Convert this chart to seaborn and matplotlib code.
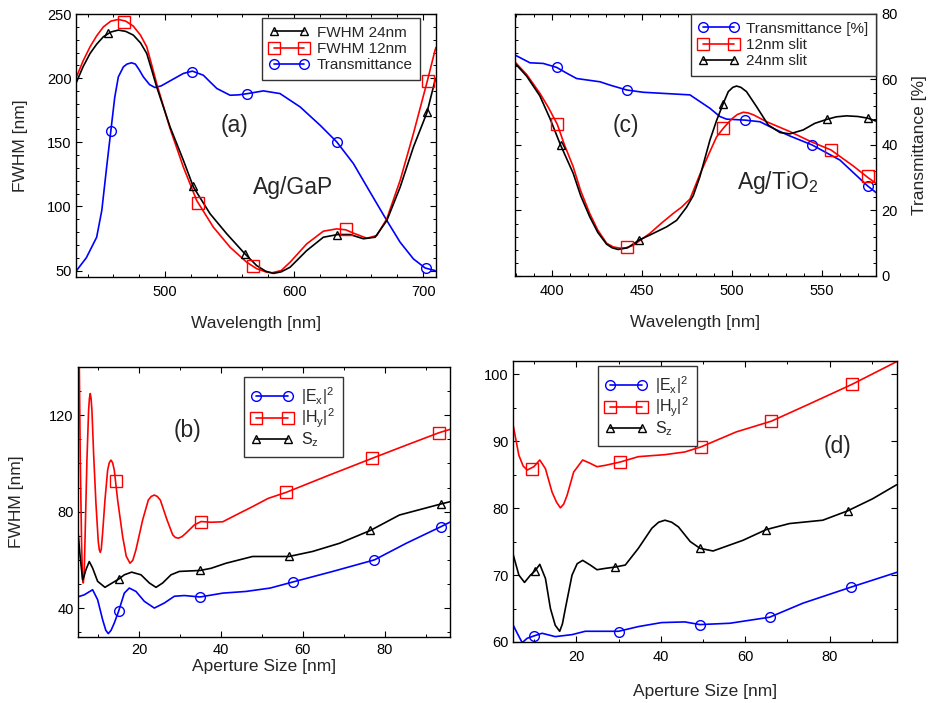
import numpy as np
import pandas as pd
import matplotlib
matplotlib.use('Agg')
import matplotlib.pyplot as plt
import seaborn as sns
from matplotlib.lines import Line2D
from matplotlib.ticker import MultipleLocator

# ---------------- Panel (a): Ag/GaP ----------------
a_24_x = [431.4, 436.5, 441.9, 447, 452.2, 458, 463.8, 469.5, 475.4, 481, 485.8, 489.5, 493.5, 503.9, 514.2, 522,
          534.9, 547.8, 561.5, 571, 578, 584, 590, 596.9, 609.8, 622.7, 633.9, 643.4, 653.7, 662.8, 671.9,
          682.2, 692.5, 702.9, 709.3, 710]
a_24_y = [197, 209, 219.3, 226.5, 232.3, 236, 237.5, 236.5, 233.6, 227.5, 219.3, 207, 193.2, 162, 136, 115.1,
          94.3, 78.7, 63.5, 53.9, 49.5, 47.8, 49, 52.6, 65.6, 76, 78.1, 78.1, 74.8, 76, 89,
          115, 146.3, 172.9, 198.4, 200]
a_12_x = [431.4, 436.5, 441.9, 447, 452.2, 458, 463.8, 469.5, 475.4, 481, 485.8, 489.5, 493.5, 503.9, 514.2, 524.5,
          537.4, 550.4, 563.3, 571, 578.8, 583, 590, 596.9, 609.8, 622.7, 633, 640, 646, 656.4, 664.1, 671.9,
          682.2, 692.5, 703.3, 709.3, 710]
a_12_y = [201, 213.5, 224.5, 233, 240, 244.5, 245.8, 244.5, 240.6, 233.5, 224.5, 211, 195.8, 160.7, 130.7, 104.7,
          83.9, 68.2, 56.5, 51.5, 48.7, 48.3, 50, 56.5, 70.8, 80.7, 82.5, 81.8, 79.2, 75.2, 77.3, 90.4,
          120.3, 156.8, 197.9, 221.9, 224]
a_tr_x = [431.4, 439, 447, 451, 455, 458, 461, 463.8, 467.7, 470.5, 474, 477, 480, 483.2, 488, 492.2, 497, 503.9,
          514.2, 521.2, 529.7, 535, 540.1, 550.4, 557, 564.1, 576.2, 589.1, 604.7, 620.2, 633.1, 646, 658.9,
          671.9, 682.2, 692.5, 701.6, 709.3]
a_tr_y = [50, 60, 76, 97, 133, 159, 185, 201, 208.8, 211, 212, 211, 206.5, 201, 195, 192.7, 194, 197.9,
          203.7, 205.5, 202.3, 197, 192, 186.7, 187, 188, 190.1, 188, 177.6, 163.3, 150.3, 133.4, 111.2,
          89, 72.1, 59.1, 52, 50]
a_24_mx = [456, 521.7, 562, 633.6, 702.8]
a_24_my = [235, 115.6, 63, 78, 173.4]
a_12_mx = [468, 525.6, 568, 640, 703.6]
a_12_my = [244, 102.6, 53.4, 82.5, 197.7]
a_tr_mx = [458, 521, 563.8, 633, 702]
a_tr_my = [158.6, 205, 187.5, 150, 52]

# ---------------- Panel (c): Ag/TiO2 ----------------
c_tr_x = [379.4, 387.8, 395.2, 402.6, 408, 413.7, 426.7, 432.2, 441.5, 450.7, 476.7, 487.8, 493.3, 497,
          507.2, 515.6, 524.8, 532, 544.6, 560, 575.4, 580]
c_tr_y = [67.5, 65.1, 64.9, 63.7, 62, 60.3, 59.3, 58.3, 56.8, 56.1, 55.3, 51.2, 48.7, 47.9,
          47.6, 47.1, 44.6, 42.8, 40, 35.4, 27.5, 25.5]
c_12_x = [379.4, 386, 393.3, 398, 403, 407, 411.8, 416, 421, 425.5, 430.4, 434, 437.8, 441, 445, 454.4, 461,
          467.4, 472, 476.7, 482.2, 487.8, 491.5, 495.5, 500, 503, 506.3, 509, 512, 519.3, 532.2, 544, 555,
          567.4, 575.7, 580]
c_12_y = [65.4, 61.5, 55.8, 51.5, 46.3, 40, 33.4, 26, 19.1, 14, 10, 8.9, 8.5, 8.6, 9.3, 13, 16.2,
          19.1, 21, 23.5, 31, 38, 42.5, 45.3, 48, 49.3, 50, 49.8, 49.2, 47.1, 44.1, 41, 38.5,
          33.6, 30, 28.3]
c_24_x = [379.4, 386, 393.3, 399, 404.8, 411.8, 416, 421, 425.5, 430.4, 433.5, 436.8, 442, 448.5, 454.4, 463.7,
          469.3, 474.8, 478.5, 482.2, 487.8, 491.5, 495.2, 498, 500.5, 502.6, 505, 508.1, 513.7, 520.2, 526.7,
          532.2, 539.6, 546, 552.6, 558, 563.7, 570, 575.4, 580]
c_24_y = [65, 61, 55, 48, 40, 31.4, 24.5, 18.1, 13.3, 9.7, 8.6, 8.1, 8.6, 11, 12.5, 15,
          17, 21, 24.5, 30.3, 41.5, 47.5, 52.7, 56.3, 57.6, 58, 57.6, 56.3, 51.7, 46.1, 43.8,
          43.4, 44.6, 46.6, 47.8, 48.6, 48.9, 48.7, 48.2, 47.3]
c_tr_mx = [402.6, 441.5, 507.4, 544.3, 575.4]
c_tr_my = [63.7, 56.8, 47.7, 40, 27.5]
c_12_mx = [403, 441.8, 495.3, 555, 575.8]
c_12_my = [46.3, 9, 45.2, 38.5, 30.4]
c_24_mx = [404.8, 448.5, 495.3, 552.8, 575.4]
c_24_my = [40, 11, 52.6, 48, 48.1]

# ---------------- Panel (b) ----------------
b_h_x = [5.0, 5.31, 5.56, 5.88, 6.1, 6.29, 6.5, 6.70, 7.19, 7.60, 7.8, 8.00, 8.2, 8.41, 8.82, 9.39, 9.96, 10.2,
         10.45, 10.7, 11.02, 11.60, 12.25, 12.65, 13.06, 13.47, 13.88, 14.70, 15.92, 16.8, 17.72, 18.4, 19.18,
         20.82, 22.20, 22.9, 23.67, 24.4, 25.14, 26.77, 28.16, 28.8, 29.55, 30.4, 31.42, 33.46, 35.10, 37.54,
         40.4, 43.5, 47.7, 51.5, 55.9, 66.5, 76.9, 85.3, 93.2, 95.9]
b_h_y = [150, 142.75, 101.4, 66.9, 53, 50.4, 53.5, 66.9, 101.4, 122.1, 127, 129.0, 127, 122.1, 104.1, 83.5, 67.6,
         64.3, 63.1, 64.5, 71.1, 84.8, 97.2, 100.3, 101.4, 100.3, 97.2, 84.8, 69.7, 61.5, 58.6, 59.8, 64.2,
         76.6, 84.8, 86.3, 86.9, 86.3, 84.8, 76.6, 70.4, 69.3, 69.0, 69.6, 71.1, 74.5, 75.9, 75.6,
         75.8, 78.5, 82.1, 85.5, 88, 95.2, 102.1, 107.6, 112.7, 114.1]
b_s_x = [4.9, 5.5, 6.13, 6.5, 6.94, 7.76, 8.58, 9.80, 11.6, 13.06, 14.94, 16.33, 18.12, 20.41, 22.45, 24.08,
         25.71, 27.75, 29.79, 34.85, 37.54, 41.2, 47.7, 52.6, 56.6, 62.4, 69, 76.5, 83.6, 93.8, 95.9]
b_s_y = [73.8, 62, 51.7, 53.3, 55.9, 59.3, 56.6, 51.1, 48.6, 50.1, 52.0, 53.8, 54.9, 53.8, 50.4, 48.6,
         50.4, 53.8, 55.2, 55.6, 56.5, 58.6, 61.4, 61.4, 61.4, 63.5, 66.9, 72.2, 78.6, 83.2, 84.1]
b_e_x = [4.9, 6.54, 8.58, 9.80, 11.02, 11.8, 12.41, 13.1, 13.88, 14.94, 16.33, 17.55, 19.18, 21.22, 23.67, 26.12,
         28.57, 31.0, 34.85, 40.4, 46.1, 52, 57.5, 67.3, 77.5, 85.3, 93.8, 95.9]
b_e_y = [44.6, 45.5, 47.6, 43.5, 35.2, 30.8, 29.4, 30.8, 33.8, 38.7, 46.2, 48.3, 46.9, 42.8, 40.0, 42.1,
         44.9, 45.2, 44.6, 46.2, 46.9, 48.3, 50.8, 55.2, 60.0, 66.9, 73.8, 75.6]
b_h_mx = [14.3, 35.1, 55.9, 76.9, 93.2]
b_h_my = [92.8, 75.9, 88, 102.1, 112.7]
b_s_mx = [14.94, 34.85, 56.6, 76.5, 93.8]
b_s_my = [52, 55.6, 61.4, 72.2, 83.2]
b_e_mx = [14.94, 34.85, 57.5, 77.5, 93.8]
b_e_my = [38.7, 44.6, 50.8, 60, 73.8]

# ---------------- Panel (d) ----------------
d_h_x = [4.97, 6.38, 7.4, 8.35, 9.93, 11.34, 12.68, 14.25, 15.3, 16.22, 17.0, 17.8, 19.37, 21.5, 23.3, 24.9,
         26.85, 30.4, 34.7, 41.0, 45.7, 49.5, 57.9, 66.2, 75.3, 85.3, 95.9]
d_h_y = [92.6, 87.9, 86.3, 85.7, 86.2, 87.2, 85.9, 82.4, 80.9, 80.05, 80.6, 81.9, 85.4, 87.2, 86.7, 86.2,
         86.4, 86.9, 87.7, 88.0, 88.4, 89.15, 91.4, 93.0, 95.6, 98.5, 101.9]
d_s_x = [4.97, 6.38, 7.72, 9.14, 10.16, 11.34, 12.68, 13.86, 15.0, 16.06, 16.7, 17.4, 18.98, 20.2, 21.5, 23.3,
         24.9, 26.85, 29.2, 31.6, 34.7, 37.9, 39.5, 41.0, 42.6, 44.2, 47, 49.3, 52.4, 59.5, 65.0, 70.5, 78.4,
         84.3, 90.2, 95.9]
d_s_y = [73.2, 70.0, 68.9, 70.0, 70.6, 71.6, 69.5, 65.0, 62.5, 61.6, 62.7, 65.0, 70.0, 71.7, 72.2, 71.5,
         70.8, 71.0, 71.2, 71.5, 74.0, 77.0, 77.9, 78.2, 77.9, 77.2, 75, 74.0, 73.6, 75.2, 76.8, 77.7, 78.2,
         79.6, 81.4, 83.5]
d_e_x = [4.97, 6.0, 7.17, 8.35, 9.93, 11.9, 15.0, 19.0, 22.1, 26.1, 30.0, 34.7, 40.2, 45.7, 49.3, 56.4,
         65.8, 73.7, 85.1, 95.9]
d_e_y = [62.6, 61.3, 59.9, 60.55, 60.9, 61.3, 60.8, 61.1, 61.6, 61.6, 61.6, 62.3, 62.9, 63.0, 62.6, 62.8,
         63.7, 65.8, 68.2, 70.4]
d_h_mx = [9.4, 30.4, 49.5, 66.2, 85.3]
d_h_my = [85.8, 86.9, 89.15, 93.0, 98.5]
d_s_mx = [10.16, 29.2, 49.3, 65.0, 84.3]
d_s_my = [70.6, 71.2, 74.0, 76.8, 79.6]
d_e_mx = [9.9, 30.2, 49.3, 65.8, 85.1]
d_e_my = [60.9, 61.5, 62.6, 63.7, 68.2]

# ---------------- style ----------------
sns.set_theme(style='ticks')
plt.rcParams['font.family'] = ['Liberation Sans', 'DejaVu Sans']
plt.rcParams['mathtext.fontset'] = 'custom'
plt.rcParams['mathtext.rm'] = 'Liberation Sans'
plt.rcParams['mathtext.it'] = 'Liberation Sans:italic'
plt.rcParams['axes.edgecolor'] = 'black'
plt.rcParams['axes.linewidth'] = 1.0
plt.rcParams['lines.solid_joinstyle'] = 'round'

BLUE = '#0000ff'
RED = '#ff0000'
BLACK = '#000000'
MK = {'o': 7, 's': 8, '^': 6}

fig = plt.figure(figsize=(9.35, 7.03), dpi=100)
ax_a = fig.add_axes([0.0813, 0.606, 0.385, 0.374])
ax_c = fig.add_axes([0.5508, 0.6074, 0.386, 0.3727])
ax_b = fig.add_axes([0.0834, 0.0939, 0.398, 0.384])
ax_d = fig.add_axes([0.5487, 0.0868, 0.4107, 0.3997])


def curve(ax, x, y, color):
    df = pd.DataFrame({'x': x, 'y': y})
    sns.lineplot(data=df, x='x', y='y', ax=ax, color=color, lw=1.2, sort=False, estimator=None)


def marks(ax, x, y, color, m):
    ax.plot(x, y, ls='none', marker=m, ms=MK[m], mfc='none', mec=color, mew=1.0)


def style(ax, xmaj, xmin, ymaj, ymin):
    ax.xaxis.set_major_locator(MultipleLocator(xmaj))
    ax.xaxis.set_minor_locator(MultipleLocator(xmin))
    ax.yaxis.set_major_locator(MultipleLocator(ymaj))
    ax.yaxis.set_minor_locator(MultipleLocator(ymin))
    ax.tick_params(which='both', direction='in', top=True, right=True, colors='black',
                   labelsize=10.5)
    ax.tick_params(which='major', length=4, width=0.8)
    ax.tick_params(which='minor', length=2.5, width=0.7)
    ax.tick_params(axis='x', pad=6)
    ax.tick_params(axis='y', pad=3)
    for s in ax.spines.values():
        s.set_visible(True)
        s.set_color('black')
        s.set_linewidth(1.0)


def legend(ax, entries, anchor, spacing, fs):
    handles = [Line2D([], [], color=c, marker=m, ms=MK[m], mfc='none', mec=c, mew=1.0, lw=1.2)
               for c, m, _ in entries]
    labels = [t for _, _, t in entries]
    leg = ax.legend(handles, labels, loc='upper right', bbox_to_anchor=anchor, numpoints=2,
                    handlelength=2.6, fontsize=fs, fancybox=False, framealpha=1,
                    edgecolor='#333333', borderaxespad=0, labelspacing=spacing,
                    handletextpad=0.5, borderpad=0.5)
    leg.get_frame().set_linewidth(1.0)


# ---- (a)
ax = ax_a
curve(ax, a_tr_x, a_tr_y, BLUE)
curve(ax, a_12_x, a_12_y, RED)
curve(ax, a_24_x, a_24_y, BLACK)
marks(ax, a_tr_mx, a_tr_my, BLUE, 'o')
marks(ax, a_12_mx, a_12_my, RED, 's')
marks(ax, a_24_mx, a_24_my, BLACK, '^')
ax.set_xlim(431, 710)
ax.set_ylim(45, 250)
style(ax, 100, 20, 50, 10)
ax.set_xlabel('Wavelength [nm]', fontsize=12.5, labelpad=12)
ax.set_ylabel('FWHM [nm]', fontsize=12.5, labelpad=14)
ax.text(554, 163, '(a)', fontsize=16.5, ha='center', va='center')
ax.text(599, 115, 'Ag/GaP', fontsize=16.5, ha='center', va='center')
legend(ax, [(BLACK, '^', 'FWHM 24nm'), (RED, 's', 'FWHM 12nm'), (BLUE, 'o', 'Transmittance')],
       (0.956, 0.985), 0.15, 11)

# ---- (c)
ax = ax_c
curve(ax, c_tr_x, c_tr_y, BLUE)
curve(ax, c_12_x, c_12_y, RED)
curve(ax, c_24_x, c_24_y, BLACK)
marks(ax, c_tr_mx, c_tr_my, BLUE, 'o')
marks(ax, c_12_mx, c_12_my, RED, 's')
marks(ax, c_24_mx, c_24_my, BLACK, '^')
ax.set_xlim(379.5, 580)
ax.set_ylim(0, 80)
style(ax, 50, 10, 20, 4)
ax.tick_params(axis='y', labelleft=False, labelright=True, pad=4)
ax.yaxis.set_label_position('right')
ax.set_xlabel('Wavelength [nm]', fontsize=12.5, labelpad=12)
ax.set_ylabel('Transmittance [%]', fontsize=12.5, labelpad=10)
ax.text(441, 46, '(c)', fontsize=16.5, ha='center', va='center')
ax.text(525.6, 28.4, 'Ag/TiO$_2$', fontsize=16.5, ha='center', va='center')
legend(ax, [(BLUE, 'o', 'Transmittance [%]'), (RED, 's', '12nm slit'), (BLACK, '^', '24nm slit')],
       (1.0, 1.0), 0.15, 11)

# ---- (b)
LEG_LABELS = [r'|E$_{\mathrm{x}}$|$^{2}$', r'|H$_{\mathrm{y}}$|$^{2}$', r'S$_{\mathrm{z}}$']
ax = ax_b
curve(ax, b_e_x, b_e_y, BLUE)
curve(ax, b_h_x, b_h_y, RED)
curve(ax, b_s_x, b_s_y, BLACK)
marks(ax, b_e_mx, b_e_my, BLUE, 'o')
marks(ax, b_h_mx, b_h_my, RED, 's')
marks(ax, b_s_mx, b_s_my, BLACK, '^')
ax.set_xlim(5, 96)
ax.set_ylim(28, 140)
style(ax, 20, 10, 40, 10)
ax.tick_params(axis='x', pad=4)
ax.set_xlabel('Aperture Size [nm]', fontsize=12.5, labelpad=2)
ax.set_ylabel('FWHM [nm]', fontsize=12.5, labelpad=18)
ax.text(31.8, 113.8, '(b)', fontsize=16.5, ha='center', va='center')
legend(ax, [(BLUE, 'o', LEG_LABELS[0]), (RED, 's', LEG_LABELS[1]), (BLACK, '^', LEG_LABELS[2])],
       (0.712, 0.963), 0.02, 11.5)

# ---- (d)
ax = ax_d
curve(ax, d_e_x, d_e_y, BLUE)
curve(ax, d_h_x, d_h_y, RED)
curve(ax, d_s_x, d_s_y, BLACK)
marks(ax, d_e_mx, d_e_my, BLUE, 'o')
marks(ax, d_h_mx, d_h_my, RED, 's')
marks(ax, d_s_mx, d_s_my, BLACK, '^')
ax.set_xlim(5, 96)
ax.set_ylim(60, 102)
style(ax, 20, 10, 10, 5)
ax.set_xlabel('Aperture Size [nm]', fontsize=12.5, labelpad=14)
ax.set_ylabel('')
ax.text(81.9, 89.2, '(d)', fontsize=16.5, ha='center', va='center')
legend(ax, [(BLUE, 'o', LEG_LABELS[0]), (RED, 's', LEG_LABELS[1]), (BLACK, '^', LEG_LABELS[2])],
       (0.479, 0.982), 0.02, 11.5)

fig.savefig('out.png', dpi=100)
